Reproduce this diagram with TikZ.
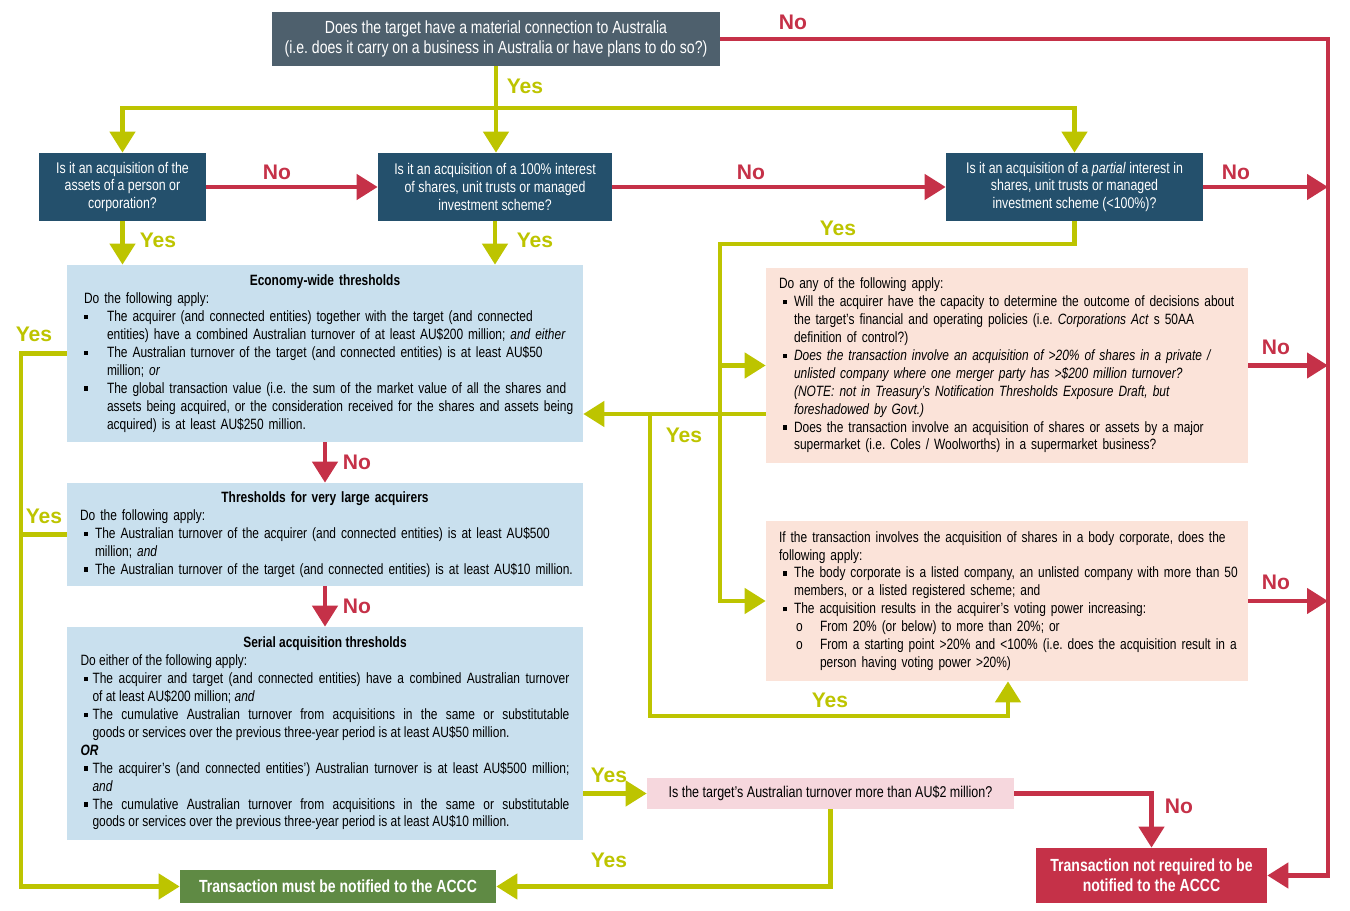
\documentclass[tikz,border=0pt]{standalone}
\usepackage{fontspec}
\setmainfont{Liberation Sans}[FakeStretch=0.8]
\newfontfamily\labfont{Liberation Sans}
\usetikzlibrary{arrows.meta}
\definecolor{topgray}{RGB}{78,96,109}
\definecolor{qblue}{RGB}{36,80,108}
\definecolor{tblue}{RGB}{201,224,238}
\definecolor{peach}{RGB}{251,227,217}
\definecolor{rosy}{RGB}{246,215,221}
\definecolor{okgreen}{RGB}{95,138,68}
\definecolor{nored}{RGB}{197,49,72}
\definecolor{yesgreen}{RGB}{189,196,0}
\frenchspacing
\newlength{\bind}\newlength{\boff}
\newcommand{\sqb}{\rule[0.3ex]{0.55ex}{0.55ex}}
\newcommand{\bitem}[1]{\par\noindent\hangindent=\bind\hangafter=1\makebox[\bind][l]{\hspace{\boff}\sqb}#1\par}
\newcommand{\oitem}[1]{\par\noindent\hangindent=0.82cm\hangafter=1\makebox[0.82cm][l]{\hspace{0.34cm}o}#1\par}
\newcommand{\boxfont}{\fontsize{8.5}{10.2}\selectfont}
\newcommand{\wide}{\rightskip=-0.4cm plus 1fil}
\begin{document}
\begin{tikzpicture}[x=0.02cm,y=-0.02cm,>={Triangle[length=0.42cm,width=0.5cm]},
  qnode/.style={fill=qblue,text=white,align=center,minimum height=1.36cm,inner xsep=0pt,font=\fontsize{8.8}{10.2}\selectfont},
  tbox/.style={fill=tblue,align=left,font=\boxfont},
  pbox/.style={fill=peach,align=left,font=\boxfont,inner xsep=0.26cm,text width=9.12cm},
  endbox/.style={text=white,align=center,font=\fontsize{10}{11.6}\selectfont\bfseries},
  yesl/.style={draw=yesgreen,line width=0.09cm},
  nol/.style={draw=nored,line width=0.09cm},
  ylab/.style={text=yesgreen,font=\labfont\fontsize{12}{14}\selectfont\bfseries,inner sep=0pt},
  nlab/.style={text=nored,font=\labfont\fontsize{12}{14}\selectfont\bfseries,inner sep=0pt}]
\useasboundingbox (0,0) rectangle (1350,911);
% questions
\node[fill=topgray,text=white,align=center,minimum width=8.96cm,minimum height=1.08cm,font=\fontsize{10}{11.3}\selectfont] (top) at (496,39)
  {Does the target have a material connection to Australia\\(i.e. does it carry on a business in Australia or have plans to do so?)};
\node[qnode,minimum width=3.34cm] (q1) at (122.5,187) {Is it an acquisition of the\\assets of a person or\\corporation?};
\node[qnode,minimum width=4.68cm] (q2) at (495,187) {Is it an acquisition of a 100\% interest\\of shares, unit trusts or managed\\investment scheme?};
\node[qnode,minimum width=5.14cm] (q3) at (1074.5,187) {Is it an acquisition of a \textit{partial} interest in\\shares, unit trusts or managed\\investment scheme (<100\%)?};
% thresholds
\node[tbox,inner xsep=0.34cm,text width=9.64cm,minimum height=3.54cm] (econ) at (325,353.5) {%
  \setlength{\bind}{0.46cm}\setlength{\boff}{0cm}\wide
  {\centering\textbf{Economy-wide thresholds}\par}
  \noindent Do the following apply:
  \bitem{The acquirer (and connected entities) together with the target (and connected\newline entities) have a combined Australian turnover of at least AU\$200 million; \textit{and either}}
  \bitem{The Australian turnover of the target (and connected entities) is at least AU\$50\newline million; \textit{or}}
  \bitem{The global transaction value (i.e. the sum of the market value of all the shares and\newline assets being acquired, or the consideration received for the shares and assets being\newline acquired) is at least AU\$250 million.}};
\node[tbox,inner xsep=0.26cm,text width=9.8cm,minimum height=2.06cm] (vla) at (325,534.5) {%
  \setlength{\bind}{0.3cm}\setlength{\boff}{0.08cm}\wide
  {\centering\textbf{Thresholds for very large acquirers}\par}
  \noindent Do the following apply:
  \bitem{The Australian turnover of the acquirer (and connected entities) is at least AU\$500\newline million; \textit{and}}
  \bitem{The Australian turnover of the target (and connected entities) is at least AU\$10 million.}};
\node[tbox,align=justify,inner xsep=0.27cm,text width=9.78cm,minimum height=4.26cm] (serial) at (325,733.5) {%
  \setlength{\bind}{0.24cm}\setlength{\boff}{0.06cm}%
  {\centering\textbf{Serial acquisition thresholds}\par}
  \noindent Do either of the following apply:
  \bitem{The acquirer and target (and connected entities) have a combined Australian turnover\linebreak of at least AU\$200 million; \textit{and}}
  \bitem{The cumulative Australian turnover from acquisitions in the same or substitutable\linebreak goods or services over the previous three-year period is at least AU\$50 million.}
  \par\noindent\textbf{\textit{OR}}
  \bitem{The acquirer’s (and connected entities’) Australian turnover is at least AU\$500 million;\linebreak \textit{and}}
  \bitem{The cumulative Australian turnover from acquisitions in the same or substitutable\linebreak goods or services over the previous three-year period is at least AU\$10 million.}};
% extra tests
\node[pbox,minimum height=3.9cm] (ctl) at (1007,365.5) {%
  \setlength{\bind}{0.3cm}\setlength{\boff}{0.08cm}\wide
  \noindent Do any of the following apply:
  \bitem{Will the acquirer have the capacity to determine the outcome of decisions about\newline the target’s financial and operating policies (i.e. \textit{Corporations Act} s 50AA\newline definition of control?)}
  \bitem{\textit{Does the transaction involve an acquisition of >20\% of shares in a private /\newline unlisted company where one merger party has >\$200 million turnover?\newline (NOTE: not in Treasury’s Notification Thresholds Exposure Draft, but\newline foreshadowed by Govt.)}}
  \bitem{Does the transaction involve an acquisition of shares or assets by a major\newline supermarket (i.e. Coles / Woolworths) in a supermarket business?}};
\node[pbox,minimum height=3.2cm] (body) at (1007,601) {%
  \setlength{\bind}{0.3cm}\setlength{\boff}{0.08cm}\wide
  \noindent If the transaction involves the acquisition of shares in a body corporate, does the\newline following apply:
  \bitem{The body corporate is a listed company, an unlisted company with more than 50\newline members, or a listed registered scheme; and}
  \bitem{The acquisition results in the acquirer’s voting power increasing:}
  \oitem{From 20\% (or below) to more than 20\%; or}
  \oitem{From a starting point >20\% and <100\% (i.e. does the acquisition result in a\newline person having voting power >20\%)}};
\node[fill=rosy,minimum width=7.34cm,minimum height=0.62cm,font=\fontsize{8.9}{10.2}\selectfont] (au) at (830.5,793.5) {Is the target’s Australian turnover more than AU\$2 million?};
% outcomes
\node[endbox,fill=okgreen,minimum width=6.32cm,minimum height=0.66cm] (must) at (338,886.5) {Transaction must be notified to the ACCC};
\node[endbox,fill=nored,minimum width=4.62cm,minimum height=1.1cm] (nr) at (1151.5,875.5) {Transaction not required to be\\notified to the ACCC};
% helper points
\coordinate (rx) at (1328,0);
\coordinate (lx) at (21,0);
\coordinate (yrow) at (0,108);
\coordinate (ja) at (720,244);
\coordinate (jb) at (650,414);
\coordinate (jc) at (1008,716);
% yes connectors
\draw[yesl,->] (top.south) -- (top.south |- q2.north);
\draw[yesl,->] (top.south |- yrow) -| (q1.north);
\draw[yesl,->] (top.south |- yrow) -| (q3.north);
\draw[yesl,->] (q1.south) -- (q1.south |- econ.north);
\draw[yesl,->] (q2.south) -- (q2.south |- econ.north);
\draw[yesl,->] (q3.south) |- (ja) |- (body.west);
\draw[yesl,->] (ja |- ctl.west) -- (ctl.west);
\draw[yesl,->] (ctl.west |- jb) -- (econ.east |- jb);
\draw[yesl,->] (jb) |- (jc) -- (jc |- body.south);
\draw[yesl,->] (econ.west) -| (lx |- must.west) -- (must.west);
\draw[yesl] (vla.west) -- (vla.west -| lx);
\draw[yesl,->] (serial.east |- au.west) -- (au.west);
\draw[yesl,->] (au.south) |- (must.east);
% no connectors
\draw[nol,->] (top.east) -| (rx |- nr.east) -- (nr.east);
\draw[nol,->] (q1.east) -- (q2.west);
\draw[nol,->] (q2.east) -- (q3.west);
\draw[nol,->] (q3.east) -- (q3.east -| rx);
\draw[nol,->] (ctl.east) -- (ctl.east -| rx);
\draw[nol,->] (body.east) -- (body.east -| rx);
\draw[nol,->] (econ.south) -- (vla.north);
\draw[nol,->] (vla.south) -- (serial.north);
\draw[nol,->] (au.east) -| (nr.north);
% labels
\node[nlab] (n1) at (793,22) {No};
\node[ylab] (y1) at (525,86) {Yes};
\node[nlab] (n2) at (277,172) {No};
\node[nlab] (n3) at (751,172) {No};
\node[nlab] (n4) at (1236,172) {No};
\node[ylab] (y2) at (158,240) {Yes};
\node[ylab] (y3) at (535,240) {Yes};
\node[ylab] (y4) at (838,228) {Yes};
\node[ylab] (y5) at (34,334) {Yes};
\node[ylab] (y6) at (44,516) {Yes};
\node[nlab] (n5) at (357,462) {No};
\node[nlab] (n6) at (357,606) {No};
\node[nlab] (n7) at (1276,347) {No};
\node[nlab] (n8) at (1276,582) {No};
\node[ylab] (y7) at (684,435) {Yes};
\node[ylab] (y8) at (830,700) {Yes};
\node[ylab] (y9) at (609,775) {Yes};
\node[ylab] (y10) at (609,860) {Yes};
\node[nlab] (n9) at (1179,806) {No};
\end{tikzpicture}
\end{document}
